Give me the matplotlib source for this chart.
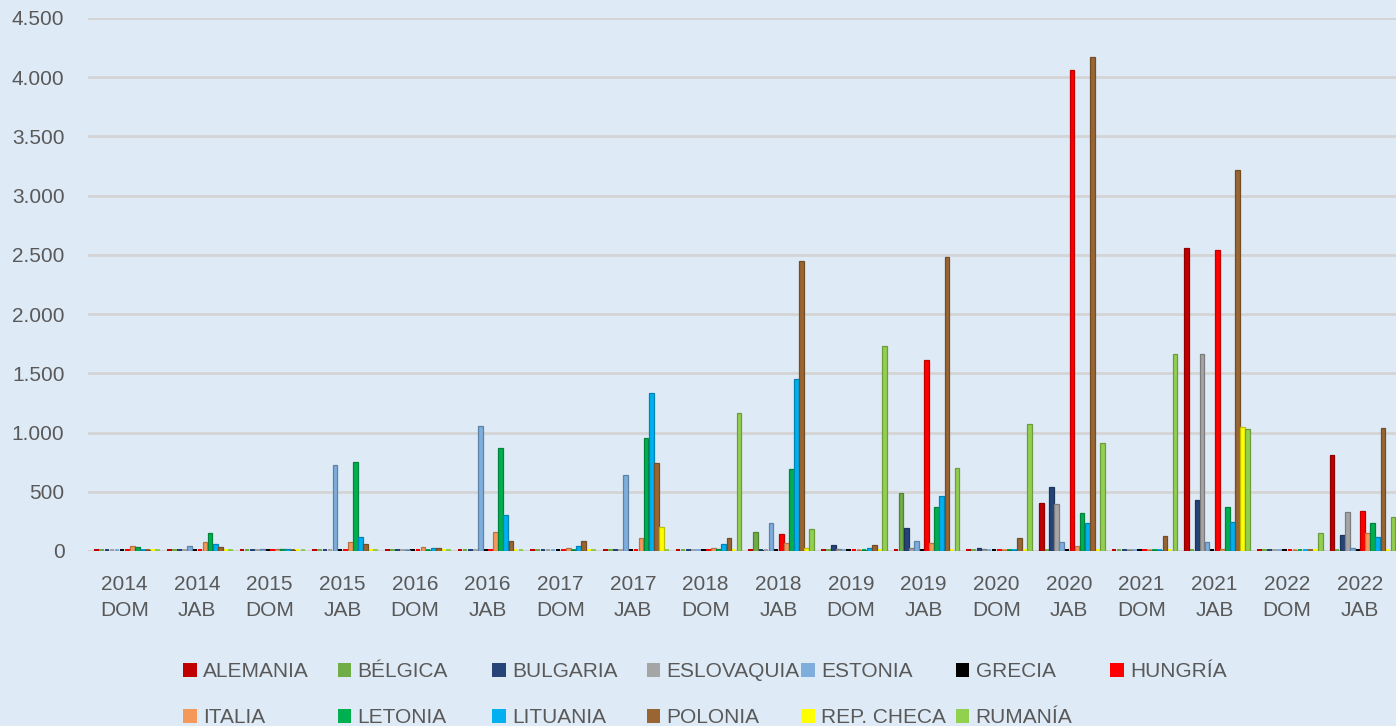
import matplotlib
matplotlib.use("Agg")
import matplotlib.pyplot as plt
from matplotlib.patches import Patch
from matplotlib.ticker import FuncFormatter, MultipleLocator
import numpy as np

plt.rcParams['font.family'] = ['Liberation Sans', 'DejaVu Sans']

categories = ["2014\nDOM", "2014\nJAB", "2015\nDOM", "2015\nJAB", "2016\nDOM", "2016\nJAB",
              "2017\nDOM", "2017\nJAB", "2018\nDOM", "2018\nJAB", "2019\nDOM", "2019\nJAB",
              "2020\nDOM", "2020\nJAB", "2021\nDOM", "2021\nJAB", "2022\nDOM", "2022\nJAB"]

alemania   = [0, 0, 0, 0, 0, 0, 0, 0, 0, 0, 0, 0, 0, 405, 0, 2557, 0, 808]
belgica    = [0, 0, 0, 0, 0, 0, 0, 0, 0, 163, 0, 487, 0, 0, 0, 0, 0, 0]
bulgaria   = [0, 0, 0, 0, 0, 0, 0, 0, 0, 5, 51, 191, 22, 538, 0, 431, 0, 132]
eslovaquia = [0, 0, 0, 0, 0, 0, 0, 0, 0, 0, 17, 28, 15, 394, 10, 1667, 0, 332]
estonia    = [0, 40, 20, 726, 8, 1058, 0, 642, 0, 234, 0, 84, 0, 73, 0, 76, 0, 28]
grecia     = [0] * 18
hungria    = [0, 0, 0, 0, 0, 0, 0, 0, 0, 141, 0, 1613, 0, 4063, 0, 2545, 0, 335]
italia     = [40, 75, 15, 79, 30, 163, 23, 113, 28, 70, 8, 65, 5, 45, 5, 20, 5, 149]
letonia    = [35, 155, 15, 752, 8, 867, 8, 952, 15, 690, 5, 374, 5, 324, 5, 372, 0, 239]
lituania   = [10, 55, 15, 115, 22, 304, 42, 1332, 56, 1450, 22, 467, 8, 234, 5, 248, 0, 121]
polonia    = [5, 30, 5, 59, 22, 84, 87, 746, 113, 2449, 54, 2486, 107, 4167, 127, 3218, 0, 1036]
rep_checa  = [0, 0, 0, 0, 0, 0, 0, 205, 0, 28, 0, 0, 0, 0, 0, 1050, 0, 0]
rumania    = [0, 0, 0, 0, 0, 0, 0, 0, 1168, 183, 1734, 698, 1070, 915, 1667, 1030, 155, 290]

series_names = ["ALEMANIA", "BÉLGICA", "BULGARIA", "ESLOVAQUIA", "ESTONIA", "GRECIA", "HUNGRÍA",
                "ITALIA", "LETONIA", "LITUANIA", "POLONIA", "REP. CHECA", "RUMANÍA"]
series_values = [alemania, belgica, bulgaria, eslovaquia, estonia, grecia, hungria,
                 italia, letonia, lituania, polonia, rep_checa, rumania]
colors = ["#C00000", "#70AD47", "#264478", "#A5A5A5", "#7FAEDD", "#000000", "#FF0000",
          "#F5995B", "#00B050", "#00B0F0", "#996633", "#FFFF00", "#92D050"]

BG = "#DEEAF6"
TXT = "#595959"

fig = plt.figure(figsize=(13.96, 7.26), dpi=100, facecolor=BG)
ax = fig.add_axes([88 / 1396, 1 - 551 / 726, 1 - 88 / 1396, (551 - 18) / 726])
ax.set_facecolor(BG)

x = np.arange(len(categories))
step = 0.07
n = len(series_names)
FACE = 20  # visual thickness (data units) of the flat 3D top face at the floor

def darker(c, f=0.75):
    r, g, b = matplotlib.colors.to_rgb(c)
    return (r * f, g * f, b * f)

for i, (name, vals, col) in enumerate(zip(series_names, series_values, colors)):
    pos = x + (i - (n - 1) / 2) * step + 0.04
    ax.bar(pos, vals, width=step * 0.92,
           color=col, edgecolor=darker(col), linewidth=0.9, zorder=3, label=name)
    # flat face drawn at the floor for every bar (as in the 3D original)
    ax.bar(pos, FACE, width=step * 0.92, color=col, linewidth=0, zorder=2.6)

ax.set_xlim(-0.5, len(categories) - 0.5)
ax.set_ylim(0, 4500)
ax.yaxis.set_major_locator(MultipleLocator(500))
ax.yaxis.set_major_formatter(FuncFormatter(lambda v, p: f"{int(v):,}".replace(",", ".")))
ax.grid(axis='y', color="#D4D4D4", linewidth=2.0, zorder=0)
ax.axhline(0, color="#D0D0D0", linewidth=2.2, zorder=2)

ax.set_xticks(x)
ax.set_xticklabels(categories, linespacing=1.5)
ax.tick_params(axis='both', length=0, labelsize=15, labelcolor=TXT)
ax.tick_params(axis='x', pad=17)
ax.tick_params(axis='y', pad=17)
for s in ax.spines.values():
    s.set_visible(False)

# Legend: 7 uniform columns, 2 rows
handles = [Patch(facecolor=c, edgecolor='none') for c in colors]
col_x0 = 183
col_dx = 154.5
for j in range(7):
    idx = [j, j + 7] if j + 7 < n else [j]
    leg = fig.legend([handles[k] for k in idx], [series_names[k] for k in idx],
                     loc='upper left',
                     bbox_to_anchor=((col_x0 + j * col_dx) / 1396, 1 - 662 / 726),
                     bbox_transform=fig.transFigure,
                     frameon=False, fontsize=15, handlelength=0.67, handleheight=0.67,
                     handletextpad=0.3, labelspacing=1.3, borderpad=0, borderaxespad=0,
                     labelcolor=TXT)

fig.savefig("out.png", dpi=100, facecolor=BG)
